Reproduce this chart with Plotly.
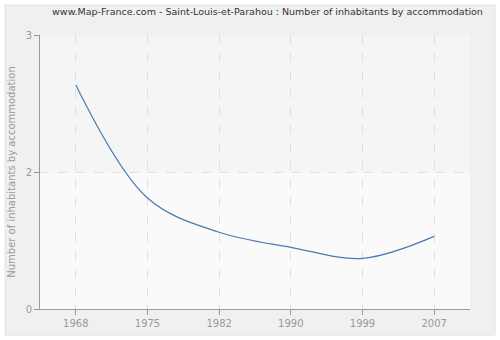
import plotly.graph_objects as go

years = ["1968", "1975", "1982", "1990", "1999", "2007"]
values = [2.635, 1.81, 1.56, 1.45, 1.37, 1.53]
y_tickvals = [1, 2, 3]
y_ticktext = ["0", "2", "3"]

fig = go.Figure()
fig.add_trace(go.Scatter(
    x=years, y=values, mode="lines",
    line=dict(color="#4a7ab3", width=1.2, shape="spline", smoothing=1.0),
    hoverinfo="skip", showlegend=False,
))

fig.update_layout(
    width=500, height=340,
    margin=dict(l=40, r=30, t=35, b=31),
    paper_bgcolor="#ffffff",
    plot_bgcolor="#fafafa",
    title=dict(text="www.Map-France.com - Saint-Louis-et-Parahou : Number of inhabitants by accommodation",
               x=0.535, xanchor="center", y=0.965, yanchor="middle",
               font=dict(family="DejaVu Sans", size=9.5, color="#333333")),
    font=dict(family="DejaVu Sans", size=10, color="#999999"),
    shapes=[
        dict(type="rect", xref="paper", yref="paper", x0=-0.081, x1=1.058, y0=-0.095, y1=1.109,
             fillcolor="#f0f0f0", line=dict(color="#e0e0e0", width=1), layer="below"),
        dict(type="rect", xref="paper", yref="paper", x0=0, x1=1, y0=0, y1=1,
             fillcolor="#fafafa", line=dict(width=0), layer="below"),
        dict(type="rect", xref="paper", yref="y", x0=0, x1=1, y0=2, y1=3,
             fillcolor="#f5f5f5", line=dict(width=0), layer="below"),
    ],
)
fig.update_xaxes(
    type="category", range=[-0.5, 5.5],
    showline=True, linecolor="#999999", linewidth=1,
    ticks="outside", ticklen=5, tickcolor="#999999",
    showgrid=True, gridcolor="#e0e0e0", griddash="dash", gridwidth=1,
    tickfont=dict(size=10, color="#999999"), zeroline=False,
)
fig.update_yaxes(
    range=[1, 3], tickvals=y_tickvals, ticktext=y_ticktext,
    showline=True, linecolor="#999999", linewidth=1,
    ticks="outside", ticklen=5, tickcolor="#999999",
    showgrid=True, gridcolor="#e0e0e0", griddash="dash", gridwidth=1,
    tickfont=dict(size=10, color="#999999"), zeroline=False,
    title=dict(text="Number of inhabitants by accommodation", font=dict(size=10, color="#999999"), standoff=8),
)

fig.write_html("out.html")
